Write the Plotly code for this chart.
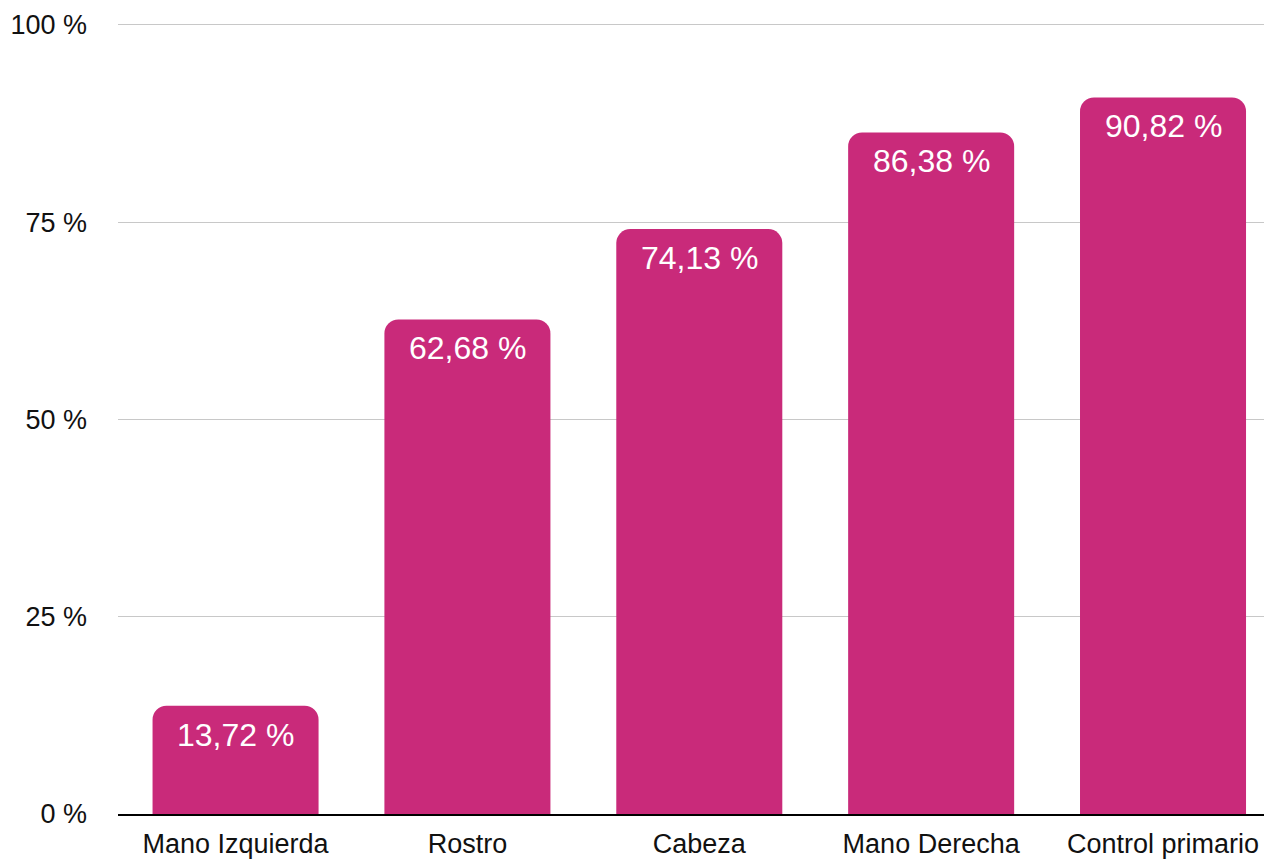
import plotly.graph_objects as go

# Share of detections per body region / control
categories = ["Mano Izquierda", "Rostro", "Cabeza", "Mano Derecha", "Control primario"]
values = [13.72, 62.68, 74.13, 86.38, 90.82]
y_ticks = [0, 25, 50, 75, 100]

bar_color = "#C92A7A"
font_family = "Liberation Sans, Arial, Helvetica, sans-serif"

fig = go.Figure(
    go.Bar(
        x=categories,
        y=values,
        marker=dict(color=bar_color, cornerradius=14, line=dict(width=0)),
        hoverinfo="skip",
    )
)

# Value labels sit just under the rounded top of each bar
for cat, val in zip(categories, values):
    fig.add_annotation(
        x=cat,
        y=val,
        text=f"{val:.2f} %".replace(".", ","),
        showarrow=False,
        yanchor="top",
        yshift=-9,
        font=dict(family=font_family, size=32, color="white"),
    )

fig.update_layout(
    width=1264,
    height=859,
    margin=dict(l=118, r=0, t=21, b=41),
    paper_bgcolor="white",
    plot_bgcolor="white",
    bargap=0.284,
    showlegend=False,
    font=dict(family=font_family, size=27, color="#111111"),
    xaxis=dict(
        range=[-0.507, 4.4355],
        showline=True,
        linecolor="#000000",
        linewidth=2,
        showgrid=False,
        zeroline=False,
        ticks="",
        ticklabelstandoff=5,
        tickfont=dict(family=font_family, size=27, color="#111111"),
    ),
    yaxis=dict(
        range=[0, 100.5],
        tickvals=y_ticks,
        ticktext=[f"{t} %" for t in y_ticks],
        showgrid=True,
        gridcolor="#C8C8C8",
        gridwidth=1,
        zeroline=False,
        showline=False,
        ticks="",
        ticklabelstandoff=30,
        tickfont=dict(family=font_family, size=27, color="#111111"),
    ),
)

fig.write_html("out.html")
